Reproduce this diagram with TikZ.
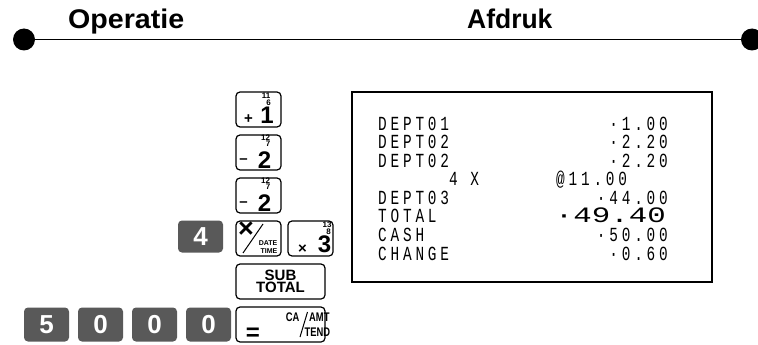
\documentclass[tikz,border=0pt]{standalone}
\usepackage{fontspec}
\usepackage{graphicx}
\setmainfont{Liberation Sans}
\newfontfamily\receiptfont[FakeStretch=0.72, LetterSpace=19]{Liberation Mono}
\newfontfamily\totalfont{Liberation Mono}
\usetikzlibrary{positioning, calc}
\definecolor{keygrey}{RGB}{89,89,89}

\begin{document}
\begin{tikzpicture}[x=1pt, y=-1pt,
  keybox/.style={draw, line width=1.2pt, rounded corners=4pt, minimum width=45pt, minimum height=35pt, inner sep=0pt},
  widekey/.style={keybox, minimum width=89pt},
  numkey/.style={fill=keygrey, rounded corners=4pt, minimum width=45pt, minimum height=34pt, inner sep=0pt, text=white, font=\fontsize{26}{26}\selectfont\bfseries},
  bigdigit/.style={anchor=base, inner sep=0pt, text height=17pt, text depth=0pt, font=\fontsize{24}{24}\selectfont\bfseries},
  tinynum/.style={inner sep=0pt, text height=5.8pt, text depth=0pt, font=\fontsize{8}{8}\selectfont\bfseries},
  sign/.style={inner sep=0pt, font=\fontsize{15}{15}\selectfont\bfseries},
  keyword/.style={inner sep=0pt, font=\fontsize{12.5}{12.5}\selectfont\bfseries},
  tinyword/.style={anchor=east, inner sep=0pt, text height=5pt, text depth=0pt, font=\fontsize{7}{7}\selectfont\bfseries},
  headtext/.style={anchor=base west, inner sep=0pt, font=\fontsize{27}{27}\selectfont\bfseries},
  rline/.style={anchor=base west, inner sep=0pt, font=\receiptfont\fontsize{20}{20}\selectfont},
  ramount/.style={anchor=base east, inner sep=0pt, font=\receiptfont\fontsize{20}{20}\selectfont}]
  \clip (0,0) rectangle (758,345);

  % Header
  \node[circle, fill, minimum size=22pt, inner sep=0pt] (ldot) at (24,39.5) {};
  \node[circle, fill, minimum size=22pt, inner sep=0pt] (rdot) at (752,39.5) {};
  \draw[line width=1pt] (ldot) -- (rdot);
  \node[headtext] (oper) at (68,29) {\scalebox{1.06}[1]{Operatie}};
  \node[headtext] (afdr) at (467,29) {\scalebox{0.98}[1]{Afdruk}};

  % Dept 1 key
  \node[keybox] (k1) at (258.5,109.5) {};
  \node[tinynum] (k1a) at (266,96) {11};
  \node[tinynum] (k1b) at (268.5,102.5) {6};
  \node[sign] (k1s) at (248.5,119.5) {+};
  \node[bigdigit] (k1d) at (267,123.5) {1};

  % Dept 2 key, twice
  \node[keybox] (k2) at (258.5,152.5) {};
  \node[tinynum] (k2a) at (265.5,137.5) {12};
  \node[tinynum] (k2b) at (268,144) {7};
  \node[sign] (k2s) at (243.5,161) {\textendash};
  \node[bigdigit] (k2d) at (264.5,168) {2};

  \node[keybox] (k3) at (258.5,195.5) {};
  \node[tinynum] (k3a) at (265.5,180.5) {12};
  \node[tinynum] (k3b) at (268,187) {7};
  \node[sign] (k3s) at (243.5,204) {\textendash};
  \node[bigdigit] (k3d) at (264.5,211) {2};

  % Quantity 4, multiplication, dept 3
  \node[numkey, minimum height=32pt] (n4) at (200.5,236.5) {4};
  \node[keybox] (kx) at (258.5,238.5) {};
  \node[inner sep=0pt, font=\fontsize{27}{27}\selectfont\bfseries] (kxm) at (246,229.5) {×};
  \coordinate (kxlo) at (243,253);
  \coordinate (kxhi) at (263,224);
  \draw[line width=1pt] (kxlo) -- (kxhi);
  \node[tinyword] (kxd) at (277.5,242.5) {DATE};
  \node[tinyword] (kxt) at (277.5,250.5) {TIME};

  \node[keybox] (k4) at (310.5,238.5) {};
  \node[tinynum] (k4a) at (327,225) {13};
  \node[tinynum] (k4b) at (328.5,231.5) {8};
  \node[sign] (k4s) at (302.5,249) {×};
  \node[bigdigit] (k4d) at (324.5,252.5) {3};

  % Subtotal
  \node[widekey, align=center, font=\fontsize{15}{12.5}\selectfont\bfseries] (ksub) at (280.5,281.5) {SUB\\TOTAL};

  % Cash tendered
  \node[numkey] (n5) at (46.5,324.5) {5};
  \node[numkey] (n0a) at (100.5,324.5) {0};
  \node[numkey] (n0b) at (154.5,324.5) {0};
  \node[numkey] (n0c) at (208.5,324.5) {0};
  \node[widekey] (keq) at (280.5,324.5) {};
  \node[inner sep=0pt, font=\fontsize{24}{24}\selectfont\bfseries] (keqs) at (253,334) {=};
  \node[keyword, anchor=east] (keca) at (299.5,317.5) {\scalebox{0.75}[1]{CA}};
  \coordinate (keqlo) at (300,337);
  \coordinate (keqhi) at (307.5,312);
  \draw[line width=1pt] (keqlo) -- (keqhi);
  \node[keyword, anchor=west] (keamt) at (309,317.5) {\scalebox{0.75}[1]{AMT}};
  \node[keyword, anchor=west] (keten) at (304.5,332.5) {\scalebox{0.75}[1]{TEND}};

  % Receipt
  \node[draw, line width=1.2pt, minimum width=360pt, minimum height=190pt, inner sep=0pt] (rcpt) at (532,187) {};
  \node[rline] (r1) at (378,130) {DEPT01};
  \node[ramount] (a1) at (668,130) {·1.00};
  \node[rline] (r2) at (378,148.6) {DEPT02};
  \node[ramount] (a2) at (668,148.6) {·2.20};
  \node[rline] (r3) at (378,167.1) {DEPT02};
  \node[ramount] (a3) at (668,167.1) {·2.20};
  \node[rline] (r4) at (449,185.7) {4 X};
  \node[rline] (a4) at (556,185.7) {@11.00};
  \node[rline] (r5) at (378,204.3) {DEPT03};
  \node[ramount] (a5) at (668,204.3) {·44.00};
  \node[rline] (r6) at (378,222.9) {TOTAL};
  \node[anchor=base east, inner sep=0pt, font=\totalfont\fontsize{22}{22}\selectfont] (a6) at (666,222.9) {\scalebox{1.4}[1]{·49.40}};
  \node[rline] (r7) at (378,241.4) {CASH};
  \node[ramount] (a7) at (668,241.4) {·50.00};
  \node[rline] (r8) at (378,260) {CHANGE};
  \node[ramount] (a8) at (668,260) {·0.60};
\end{tikzpicture}
\end{document}
